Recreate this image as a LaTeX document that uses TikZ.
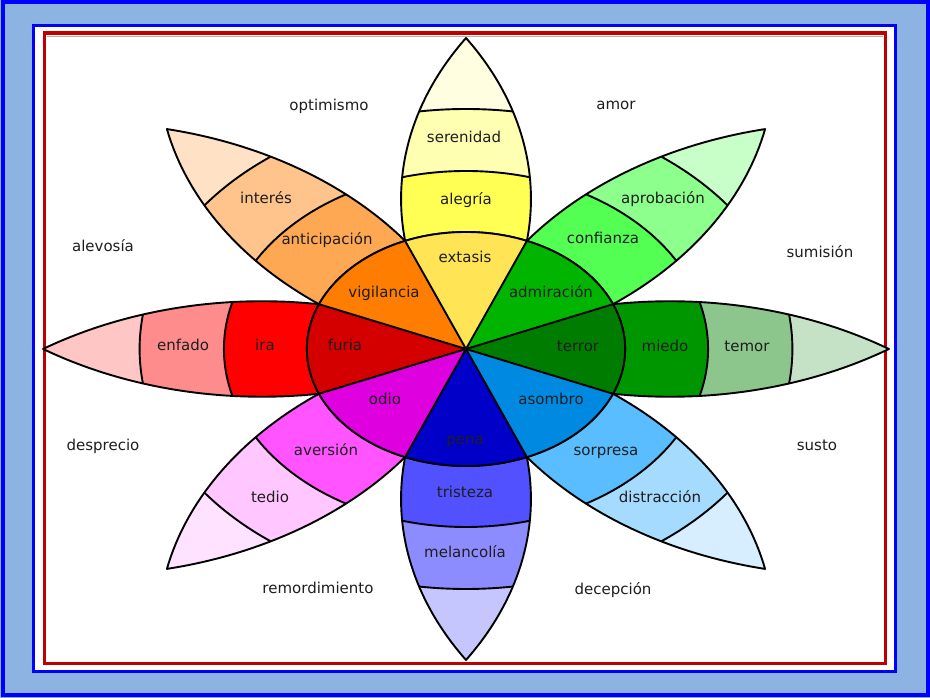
\documentclass[tikz,border=0pt]{standalone}
\usepackage{fontspec}
\setmainfont{DejaVu Sans}
\usepackage{xcolor}
\usepackage{tikz}

% frame colours
\definecolor{frameblue}{HTML}{0000FF}
\definecolor{framefill}{HTML}{8DB3E2}
\definecolor{framered}{HTML}{C00000}
\definecolor{labeltext}{HTML}{1E1E1E}

% petal colours (inner, middle, outer, tip)
\definecolor{extasiscol}{HTML}{FFE455}
\definecolor{alegriacol}{HTML}{FFFF54}
\definecolor{serenidadcol}{HTML}{FFFFB1}
\definecolor{yellowtip}{HTML}{FFFEE0}
\definecolor{admiracioncol}{HTML}{00B400}
\definecolor{confianzacol}{HTML}{54FF54}
\definecolor{aprobacioncol}{HTML}{8CFF8C}
\definecolor{greentip}{HTML}{C8FFC8}
\definecolor{terrorcol}{HTML}{007D00}
\definecolor{miedocol}{HTML}{009600}
\definecolor{temorcol}{HTML}{8CC68C}
\definecolor{darkgreentip}{HTML}{C6E2C6}
\definecolor{asombrocol}{HTML}{0089E0}
\definecolor{sorpresacol}{HTML}{59BDFF}
\definecolor{distraccioncol}{HTML}{A5DBFF}
\definecolor{bluetip}{HTML}{D6EEFF}
\definecolor{penacol}{HTML}{0000C8}
\definecolor{tristezacol}{HTML}{5151FF}
\definecolor{melancoliacol}{HTML}{8C8CFF}
\definecolor{violettip}{HTML}{C6C6FF}
\definecolor{odiocol}{HTML}{DE00DE}
\definecolor{aversioncol}{HTML}{FF54FF}
\definecolor{tediocol}{HTML}{FFC6FF}
\definecolor{pinktip}{HTML}{FFE2FF}
\definecolor{furiacol}{HTML}{D40000}
\definecolor{iracol}{HTML}{FF0000}
\definecolor{enfadocol}{HTML}{FF8C8C}
\definecolor{redtip}{HTML}{FFC6C6}
\definecolor{vigilanciacol}{HTML}{FF7D00}
\definecolor{anticipacioncol}{HTML}{FFA854}
\definecolor{interescol}{HTML}{FFC48C}
\definecolor{orangetip}{HTML}{FFE2C6}

% outline of one petal, pointing up
\newcommand{\petalpath}{(44.77,108.09) arc[start angle=-8.16, end angle=33.04, radius=295.3]
  arc[start angle=146.96, end angle=188.16, radius=295.3]
  arc[start angle=112.5, end angle=67.5, radius=117] -- cycle}

% one petal: direction, middle band, outer band, tip
\newcommand{\petal}[4]{%
  \begin{scope}[rotate=#1-90]
    \begin{scope}
      \clip \petalpath;
      \fill[#4] (0,0) circle[radius=330];
      \fill[#3] (0,0) circle[radius=240];
      \fill[#2] (0,0) circle[radius=178];
      \draw[ring] (0,0) circle[radius=178] (0,0) circle[radius=240];
    \end{scope}
    \draw[ring] \petalpath;
  \end{scope}}

% one sector of the inner circle: direction, colour
\newcommand{\sector}[2]{%
  \fill[#2] (0,0) -- (#1-22.5:117) arc[start angle=#1-22.5, end angle=#1+22.5, radius=117] -- cycle;}

\begin{document}
\begin{tikzpicture}[x=1pt, y=1pt,
    ring/.style={draw=black, line width=1.9pt, line join=round},
    lbl/.style={font=\fontsize{15}{18}\selectfont, text=labeltext, inner sep=0pt, text height=10.8pt, text depth=3pt}]

    % frame
    \fill[framefill] (0,0) rectangle (930,698);
    \draw[frameblue, line width=4pt] (2.5,2.5) rectangle (927.5,695.5);
    \filldraw[fill=white, draw=frameblue, line width=3pt] (33.7,26.3) rectangle (895,672.7);
    \draw[framered, line width=3.5pt] (44.7,34.3) rectangle (885.3,665);
    \draw[gray!60, line width=1pt] (47,661) -- (883,661);
    \useasboundingbox (0,0) rectangle (930,698);

    % flower, stretched sideways as in the source
    \begin{scope}[shift={(466,349)}, xscale=1.36]
        \petal{90}{alegriacol}{serenidadcol}{yellowtip}
        \petal{45}{confianzacol}{aprobacioncol}{greentip}
        \petal{0}{miedocol}{temorcol}{darkgreentip}
        \petal{-45}{sorpresacol}{distraccioncol}{bluetip}
        \petal{-90}{tristezacol}{melancoliacol}{violettip}
        \petal{-135}{aversioncol}{tediocol}{pinktip}
        \petal{180}{iracol}{enfadocol}{redtip}
        \petal{135}{anticipacioncol}{interescol}{orangetip}

        % inner circle
        \sector{90}{extasiscol}
        \sector{45}{admiracioncol}
        \sector{0}{terrorcol}
        \sector{-45}{asombrocol}
        \sector{-90}{penacol}
        \sector{-135}{odiocol}
        \sector{180}{furiacol}
        \sector{135}{vigilanciacol}
        \draw[ring] (22.5:117) -- (202.5:117) (67.5:117) -- (247.5:117)
            (112.5:117) -- (292.5:117) (157.5:117) -- (337.5:117);
        \draw[ring] (0,0) circle[radius=117];
    \end{scope}

    % labels inside the petals
    \node[lbl] (extasis) at (465,439) {extasis};
    \node[lbl] (alegria) at (466,497) {alegría};
    \node[lbl] (serenidad) at (464,559) {serenidad};
    \node[lbl] (admiracion) at (551,404) {admiración};
    \node[lbl] (confianza) at (603,458) {confianza};
    \node[lbl] (aprobacion) at (663,498) {aprobación};
    \node[lbl] (terror) at (578,350) {terror};
    \node[lbl] (miedo) at (665,350) {miedo};
    \node[lbl] (temor) at (747,350) {temor};
    \node[lbl] (asombro) at (551,297) {asombro};
    \node[lbl] (sorpresa) at (606,246) {sorpresa};
    \node[lbl] (distraccion) at (660,199) {distracción};
    \node[lbl] (pena) at (465,257) {pena};
    \node[lbl] (tristeza) at (465,204) {tristeza};
    \node[lbl] (melancolia) at (465,144) {melancolía};
    \node[lbl] (odio) at (385,297) {odio};
    \node[lbl] (aversion) at (326,246) {aversión};
    \node[lbl] (tedio) at (270,199) {tedio};
    \node[lbl] (furia) at (345,351) {furia};
    \node[lbl] (ira) at (265,351) {ira};
    \node[lbl] (enfado) at (183,351) {enfado};
    \node[lbl] (vigilancia) at (384,404) {vigilancia};
    \node[lbl] (anticipacion) at (327,457) {anticipación};
    \node[lbl] (interes) at (266,498) {interés};

    % labels between the petals
    \node[lbl] (optimismo) at (329,591) {optimismo};
    \node[lbl] (amor) at (616,592) {amor};
    \node[lbl] (sumision) at (820,444) {sumisión};
    \node[lbl] (susto) at (817,251) {susto};
    \node[lbl] (decepcion) at (613,107) {decepción};
    \node[lbl] (remordimiento) at (318,108) {remordimiento};
    \node[lbl] (desprecio) at (103,251) {desprecio};
    \node[lbl] (alevosia) at (103,450) {alevosía};
\end{tikzpicture}
\end{document}
